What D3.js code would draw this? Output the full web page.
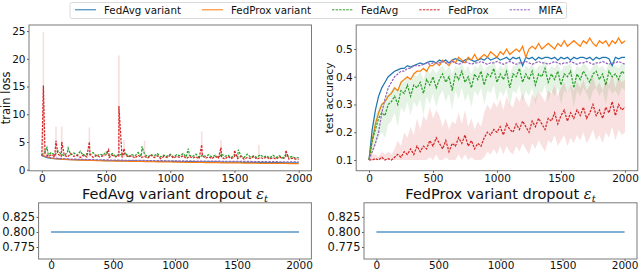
<!DOCTYPE html>
<html><head><meta charset="utf-8">
<script src="https://cdn.jsdelivr.net/npm/d3@7"></script>
<style>body{margin:0;background:#fff} svg{display:block;font-family:"DejaVu Sans",sans-serif}</style>
</head><body><svg id="c" width="640" height="273"></svg>
<script>
// ---------- DATA ----------
const seriesNames = ["FedAvg variant","FedProx variant","FedAvg","FedProx","MIFA"];
const rounds = [0,25,50,75,100,125,150,175,200,225,250,275,300,325,350,375,400,425,450,475,500,525,550,575,600,625,650,675,700,725,750,775,800,825,850,875,900,925,950,975,1000,1025,1050,1075,1100,1125,1150,1175,1200,1225,1250,1275,1300,1325,1350,1375,1400,1425,1450,1475,1500,1525,1550,1575,1600,1625,1650,1675,1700,1725,1750,1775,1800,1825,1850,1875,1900,1925,1950,1975,2000];
const xTicks = [0,500,1000,1500,2000];
const lossTicks = [0,5,10,15,20,25];
const accTicks = [0.1,0.2,0.3,0.4,0.5];
const dropTicks = [0.775,0.800,0.825];

// train loss
const blueLoss = [2.6,2.3,2.15,2.05,2.0,1.95,1.9,1.87,1.84,1.82,1.8,1.78,1.76,1.74,1.72,1.71,1.7,1.68,1.67,1.66,1.65,1.64,1.63,1.62,1.61,1.6,1.59,1.58,1.58,1.57,1.56,1.55,1.55,1.54,1.53,1.52,1.52,1.51,1.5,1.5,1.49,1.48,1.48,1.47,1.46,1.46,1.45,1.44,1.44,1.43,1.42,1.42,1.41,1.4,1.4,1.39,1.38,1.38,1.37,1.36,1.36,1.35,1.34,1.34,1.33,1.32,1.32,1.31,1.3,1.3,1.29,1.28,1.28,1.27,1.26,1.26,1.25,1.24,1.24,1.23,1.22];
const orangeLoss = [2.7,2.4,2.25,2.1,2.0,1.95,1.9,1.86,1.82,1.8,1.77,1.75,1.73,1.71,1.69,1.67,1.66,1.64,1.63,1.61,1.6,1.59,1.57,1.56,1.55,1.54,1.53,1.52,1.51,1.5,1.49,1.48,1.47,1.46,1.45,1.44,1.43,1.42,1.41,1.4,1.39,1.38,1.37,1.36,1.35,1.34,1.34,1.33,1.32,1.31,1.3,1.29,1.28,1.28,1.27,1.26,1.25,1.24,1.24,1.23,1.22,1.21,1.21,1.2,1.19,1.18,1.18,1.17,1.16,1.16,1.15,1.14,1.14,1.13,1.13,1.12,1.12,1.11,1.11,1.1,1.1];
const greenLoss = [2.6,3.3,2.7,3.1,2.6,3.4,2.8,2.5,3.2,2.7,3.0,2.6,3.3,2.5,2.9,2.7,3.1,2.4,2.8,2.6,3.2,2.5,2.9,2.4,2.8,2.6,3.0,2.4,2.7,2.5,3.1,2.4,2.8,2.3,2.7,2.5,2.9,2.3,2.6,2.4,2.8,2.3,2.7,2.5,2.9,2.3,2.6,2.4,2.8,2.2,2.6,2.4,2.7,2.3,2.6,2.2,2.8,2.4,2.6,2.2,2.7,2.3,2.5,2.2,2.8,2.3,2.5,2.2,2.7,2.3,2.5,2.1,2.6,2.2,2.5,2.1,2.7,2.2,2.4,2.1,2.2];
const redLoss = [2.5,2.9,2.4,2.7,2.3,2.8,2.4,2.6,2.3,2.9,2.4,2.6,2.2,2.7,2.3,2.8,2.2,2.6,2.3,2.5,2.7,2.2,2.6,2.3,2.5,2.2,2.7,2.3,2.5,2.1,2.6,2.2,2.4,2.1,2.6,2.2,2.5,2.0,2.4,2.2,2.6,2.1,2.4,2.2,2.5,2.0,2.4,2.1,2.3,2.0,2.5,2.1,2.3,2.0,2.4,2.1,2.3,1.9,2.4,2.0,2.3,2.0,2.4,1.9,2.2,2.0,2.4,1.9,2.2,2.0,2.3,1.9,2.2,1.9,2.3,2.0,2.2,1.9,2.1,1.9,1.9];
const purpleLoss = [2.5,2.35,2.25,2.15,2.1,2.05,2.0,1.97,1.94,1.92,1.9,1.88,1.86,1.85,1.83,1.82,1.8,1.79,1.78,1.77,1.76,1.75,1.74,1.73,1.72,1.71,1.7,1.7,1.69,1.68,1.67,1.67,1.66,1.65,1.65,1.64,1.63,1.63,1.62,1.61,1.61,1.6,1.6,1.59,1.58,1.58,1.57,1.57,1.56,1.56,1.55,1.55,1.54,1.54,1.53,1.53,1.52,1.52,1.51,1.51,1.5,1.5,1.49,1.49,1.48,1.48,1.47,1.47,1.46,1.46,1.45,1.45,1.44,1.44,1.43,1.43,1.42,1.42,1.41,1.41,1.4];
const redLossSpikeRounds = [12,110,155,370,520,600,640,1245,1395,1500,1900];
const redLossSpikeValues = [15.2,5.2,5.0,5.0,3.6,11.5,3.8,4.5,4.0,3.5,3.5];
const redLossBandRounds = [12,110,155,370,600,640,800,1245,1395,1690];
const redLossBandHigh = [24.8,7.8,7.8,7.6,20.6,5.3,5.2,6.9,5.3,4.5];
const greenLossSpikeRounds = [40,205,780,1140,1530];
const greenLossSpikeValues = [4.0,3.9,4.2,3.8,3.6];

// test accuracy
const blueAcc = [0.10,0.21,0.28,0.33,0.36,0.38,0.40,0.41,0.42,0.425,0.43,0.43,0.44,0.435,0.44,0.445,0.45,0.445,0.45,0.455,0.455,0.45,0.46,0.455,0.46,0.45,0.46,0.465,0.46,0.455,0.46,0.465,0.46,0.455,0.46,0.465,0.46,0.47,0.46,0.465,0.47,0.46,0.465,0.47,0.46,0.47,0.465,0.47,0.44,0.47,0.465,0.47,0.46,0.47,0.465,0.47,0.47,0.465,0.47,0.46,0.47,0.465,0.47,0.46,0.47,0.465,0.47,0.47,0.465,0.47,0.46,0.47,0.465,0.47,0.47,0.465,0.44,0.47,0.465,0.47,0.47];
const orangeAcc = [0.10,0.17,0.23,0.27,0.30,0.31,0.33,0.34,0.36,0.35,0.38,0.39,0.40,0.39,0.41,0.42,0.42,0.43,0.42,0.44,0.44,0.45,0.44,0.46,0.45,0.44,0.46,0.45,0.47,0.46,0.45,0.47,0.46,0.48,0.46,0.47,0.48,0.47,0.49,0.48,0.47,0.49,0.48,0.50,0.48,0.49,0.50,0.49,0.51,0.47,0.50,0.51,0.50,0.52,0.50,0.51,0.52,0.51,0.50,0.52,0.51,0.53,0.51,0.52,0.53,0.52,0.51,0.53,0.52,0.54,0.52,0.51,0.53,0.52,0.53,0.51,0.53,0.52,0.54,0.52,0.53];
const greenAcc = [0.10,0.17,0.21,0.25,0.27,0.26,0.30,0.31,0.33,0.30,0.35,0.34,0.37,0.33,0.37,0.36,0.38,0.34,0.39,0.37,0.40,0.36,0.39,0.41,0.38,0.40,0.35,0.41,0.39,0.42,0.38,0.40,0.36,0.41,0.39,0.42,0.37,0.41,0.40,0.43,0.38,0.41,0.39,0.42,0.36,0.41,0.40,0.43,0.38,0.41,0.39,0.42,0.37,0.41,0.40,0.43,0.38,0.41,0.39,0.42,0.37,0.41,0.40,0.42,0.36,0.41,0.39,0.42,0.40,0.38,0.41,0.42,0.39,0.41,0.37,0.42,0.40,0.41,0.39,0.42,0.41];
const greenAccHigh = [0.11,0.22,0.26,0.29,0.31,0.31,0.34,0.35,0.37,0.35,0.39,0.38,0.40,0.38,0.41,0.40,0.42,0.39,0.43,0.41,0.43,0.41,0.43,0.44,0.42,0.44,0.41,0.44,0.43,0.45,0.42,0.44,0.41,0.44,0.43,0.45,0.42,0.44,0.44,0.46,0.42,0.44,0.43,0.45,0.41,0.44,0.44,0.46,0.42,0.44,0.43,0.45,0.42,0.44,0.44,0.46,0.42,0.44,0.43,0.45,0.42,0.44,0.44,0.45,0.41,0.44,0.43,0.45,0.44,0.42,0.44,0.45,0.43,0.44,0.42,0.45,0.44,0.44,0.43,0.45,0.44];
const greenAccLow = [0.10,0.12,0.15,0.18,0.20,0.18,0.23,0.24,0.27,0.22,0.29,0.27,0.31,0.26,0.31,0.29,0.32,0.26,0.33,0.30,0.34,0.29,0.33,0.35,0.31,0.34,0.28,0.35,0.32,0.36,0.31,0.34,0.29,0.35,0.33,0.36,0.30,0.35,0.34,0.37,0.31,0.35,0.33,0.36,0.29,0.35,0.34,0.37,0.31,0.35,0.33,0.36,0.30,0.35,0.34,0.37,0.31,0.35,0.33,0.36,0.30,0.35,0.34,0.36,0.29,0.35,0.33,0.36,0.34,0.31,0.35,0.36,0.33,0.35,0.30,0.36,0.34,0.35,0.33,0.36,0.35];
const redAcc = [0.10,0.10,0.105,0.10,0.11,0.10,0.105,0.10,0.11,0.12,0.11,0.13,0.12,0.14,0.12,0.15,0.13,0.15,0.14,0.17,0.15,0.18,0.16,0.14,0.17,0.13,0.16,0.15,0.18,0.16,0.19,0.15,0.17,0.14,0.16,0.15,0.18,0.20,0.19,0.21,0.20,0.22,0.19,0.23,0.21,0.20,0.23,0.21,0.24,0.22,0.20,0.24,0.22,0.25,0.23,0.21,0.25,0.24,0.27,0.23,0.26,0.28,0.24,0.27,0.25,0.28,0.26,0.29,0.25,0.27,0.30,0.26,0.28,0.25,0.29,0.27,0.31,0.26,0.30,0.28,0.29];
const redAccHigh = [0.11,0.12,0.12,0.11,0.13,0.12,0.13,0.12,0.14,0.17,0.15,0.20,0.18,0.22,0.19,0.25,0.21,0.26,0.24,0.29,0.25,0.28,0.26,0.22,0.25,0.21,0.24,0.23,0.27,0.23,0.28,0.22,0.25,0.21,0.24,0.22,0.27,0.30,0.28,0.31,0.29,0.32,0.28,0.33,0.30,0.29,0.33,0.31,0.34,0.31,0.29,0.34,0.32,0.35,0.33,0.31,0.35,0.34,0.37,0.33,0.36,0.38,0.34,0.37,0.35,0.38,0.36,0.39,0.35,0.37,0.40,0.36,0.38,0.35,0.39,0.37,0.41,0.36,0.40,0.38,0.39];
const redAccLow = [0.10,0.10,0.10,0.10,0.10,0.10,0.10,0.10,0.10,0.10,0.10,0.10,0.10,0.10,0.10,0.10,0.10,0.10,0.10,0.11,0.10,0.12,0.10,0.10,0.11,0.10,0.10,0.10,0.12,0.10,0.12,0.10,0.11,0.10,0.10,0.10,0.11,0.13,0.12,0.14,0.12,0.15,0.12,0.15,0.13,0.12,0.15,0.13,0.16,0.14,0.12,0.16,0.14,0.17,0.15,0.13,0.17,0.16,0.19,0.15,0.17,0.19,0.15,0.18,0.16,0.19,0.17,0.20,0.16,0.18,0.21,0.17,0.19,0.16,0.20,0.18,0.22,0.17,0.21,0.19,0.20];
const purpleAcc = [0.10,0.13,0.16,0.20,0.27,0.32,0.36,0.38,0.40,0.41,0.42,0.42,0.43,0.43,0.44,0.44,0.44,0.445,0.45,0.445,0.45,0.45,0.45,0.455,0.45,0.45,0.455,0.45,0.445,0.45,0.455,0.45,0.445,0.45,0.45,0.455,0.45,0.445,0.45,0.45,0.455,0.45,0.445,0.45,0.455,0.45,0.445,0.45,0.45,0.455,0.45,0.445,0.45,0.455,0.45,0.45,0.445,0.45,0.455,0.45,0.445,0.45,0.45,0.455,0.45,0.445,0.45,0.45,0.455,0.45,0.445,0.45,0.45,0.455,0.45,0.445,0.45,0.45,0.455,0.45,0.445];

// dropout epsilon_t
const dropRounds = [0,2000];
const dropFedAvg = [0.8,0.8];
const dropFedProx = [0.8,0.8];

// ---------- STYLE ----------
const colors = ["#1f77b4","#ff7f0e","#2ca02c","#d62728","#9467bd"];
const dashes = [null,null,"2.4,1.2","2.4,1.2","2.4,1.2"];

const svg = d3.select("#c");
const defs = svg.append("defs");

function panel(id, f, yDomain, yTicks, yFmt, tickFont, yLabel, title) {
  const x = d3.scaleLinear().domain([-100,2100]).range([f.x0,f.x1]);
  const y = d3.scaleLinear().domain(yDomain).range([f.y1,f.y0]);
  defs.append("clipPath").attr("id","clip"+id).append("rect")
    .attr("x",f.x0).attr("y",f.y0).attr("width",f.x1-f.x0).attr("height",f.y1-f.y0);
  const g = svg.append("g");
  const plot = g.append("g").attr("clip-path",`url(#clip${id})`);
  const xa = g.append("g").attr("transform",`translate(0,${f.y1})`)
    .call(d3.axisBottom(x).tickValues(xTicks).tickSize(2).tickPadding(f.xPad).tickFormat(d3.format("d")));
  const ya = g.append("g").attr("transform",`translate(${f.x0},0)`)
    .call(d3.axisLeft(y).tickValues(yTicks).tickSize(2).tickPadding(1.5).tickFormat(yFmt));
  [xa,ya].forEach(a=>{
    a.select(".domain").remove();
    a.selectAll("line").attr("stroke","#555");
    a.selectAll("text").attr("font-size",tickFont).attr("fill","#111").attr("font-family","DejaVu Sans");
  });
  ya.selectAll("text").attr("font-size",f.yFont||tickFont);
  g.append("rect").attr("x",f.x0).attr("y",f.y0).attr("width",f.x1-f.x0).attr("height",f.y1-f.y0)
    .attr("fill","none").attr("stroke","#7a7a7a").attr("stroke-width",1);
  if (yLabel) {
    g.append("text").attr("transform",`translate(${yLabel.x},${(f.y0+f.y1)/2}) rotate(-90)`)
      .attr("text-anchor","middle").attr("font-size",yLabel.size).attr("fill","#111").text(yLabel.text);
  }
  if (title) {
    const t = g.append("text").attr("x",(f.x0+f.x1)/2).attr("y",f.y0-3.5)
      .attr("text-anchor","middle").attr("font-size",14.5).attr("fill","#111");
    t.append("tspan").text(title + " ");
    t.append("tspan").attr("font-style","italic").attr("font-family","DejaVu Serif").text("ε");
    t.append("tspan").attr("font-style","italic").attr("font-family","DejaVu Serif")
      .attr("font-size",10).attr("dy",3).text("t");
  }
  return {x,y,plot};
}

function merge(baseR, baseV, extraR, extraV) {
  const pts = baseR.map((r,i)=>[r,baseV[i]]);
  extraR.forEach((r,i)=>pts.push([r,extraV[i]]));
  return pts.sort((a,b)=>a[0]-b[0]);
}
function drawLine(p, pts, k, w) {
  const line = d3.line().x(d=>p.x(d[0])).y(d=>p.y(d[1]));
  p.plot.append("path").attr("d",line(pts)).attr("fill","none")
    .attr("stroke",colors[k]).attr("stroke-width",w||1.25)
    .attr("stroke-dasharray",dashes[k]);
}
function drawBand(p, lo, hi, k, op) {
  const area = d3.area().x((d,i)=>p.x(rounds[i])).y0((d,i)=>p.y(lo[i])).y1((d,i)=>p.y(hi[i]));
  p.plot.append("path").attr("d",area(lo)).attr("fill",colors[k]).attr("opacity",op);
}

// ---------- LOSS PANEL ----------
const L = panel("L",{x0:29,x1:311.5,y0:25,y1:170.8,xPad:2},[-0.2,26.1],lossTicks,d3.format("d"),10.5,
  {x:10,text:"train loss",size:11.5},null);
redLossBandRounds.forEach((r,i)=>{
  L.plot.append("line").attr("x1",L.x(r)).attr("x2",L.x(r)).attr("y1",L.y(2.3)).attr("y2",L.y(redLossBandHigh[i]))
    .attr("stroke",colors[3]).attr("stroke-width",1.6).attr("opacity",0.15);
});
drawLine(L, merge(rounds,blueLoss,[],[]),0);
drawLine(L, merge(rounds,orangeLoss,[],[]),1);
drawLine(L, merge(rounds,greenLoss,greenLossSpikeRounds,greenLossSpikeValues),2);
drawLine(L, merge(rounds,redLoss,redLossSpikeRounds,redLossSpikeValues),3);
drawLine(L, merge(rounds,purpleLoss,[],[]),4);

// ---------- ACCURACY PANEL ----------
const A = panel("A",{x0:356.2,x1:637.8,y0:25,y1:170.7,xPad:2},[0.0614,0.5865],accTicks,d3.format(".1f"),10.5,
  {x:333,text:"test accuracy",size:10.5},null);
drawLine(A, merge(rounds,blueAcc,[],[]),0);
drawLine(A, merge(rounds,orangeAcc,[],[]),1);
drawBand(A, greenAccLow, greenAccHigh, 2, 0.12);
drawLine(A, merge(rounds,greenAcc,[],[]),2);
drawBand(A, redAccLow, redAccHigh, 3, 0.14);
drawLine(A, merge(rounds,redAcc,[],[]),3);
drawLine(A, merge(rounds,purpleAcc,[],[]),4);

// ---------- DROPOUT PANELS ----------
const D1 = panel("D1",{x0:38.6,x1:311.4,y0:202.8,y1:259,xPad:1,yFont:11.5},[0.7551,0.8484],dropTicks,d3.format(".3f"),10.5,
  null,"FedAvg variant dropout");
D1.plot.append("path").attr("d",d3.line().x((d,i)=>D1.x(dropRounds[i])).y(d=>D1.y(d))(dropFedAvg))
  .attr("stroke",colors[0]).attr("stroke-width",1.6).attr("opacity",0.75).attr("fill","none");
const D2 = panel("D2",{x0:364,x1:637,y0:202.8,y1:259,xPad:1,yFont:11.5},[0.7551,0.8484],dropTicks,d3.format(".3f"),10.5,
  null,"FedProx variant dropout");
D2.plot.append("path").attr("d",d3.line().x((d,i)=>D2.x(dropRounds[i])).y(d=>D2.y(d))(dropFedProx))
  .attr("stroke",colors[0]).attr("stroke-width",1.6).attr("opacity",0.75).attr("fill","none");

// ---------- LEGEND ----------
const lg = svg.append("g");
const box = lg.append("rect").attr("y",2.5).attr("height",16).attr("rx",2)
  .attr("fill","#fff").attr("fill-opacity",0.85).attr("stroke","#d0d0d0").attr("stroke-width",0.8);
let cx = 75;
seriesNames.forEach((n,k)=>{
  lg.append("line").attr("x1",cx).attr("x2",cx+21).attr("y1",9.8).attr("y2",9.8)
    .attr("stroke",colors[k]).attr("stroke-width",1).attr("stroke-dasharray",dashes[k]);
  const t = lg.append("text").attr("x",cx+29).attr("y",13.5).attr("font-size",10.3).attr("fill","#111").text(n);
  cx = cx + 29 + t.node().getComputedTextLength() + 21;
});
box.attr("x",70).attr("width",cx-21+4-70);
</script></body></html>
